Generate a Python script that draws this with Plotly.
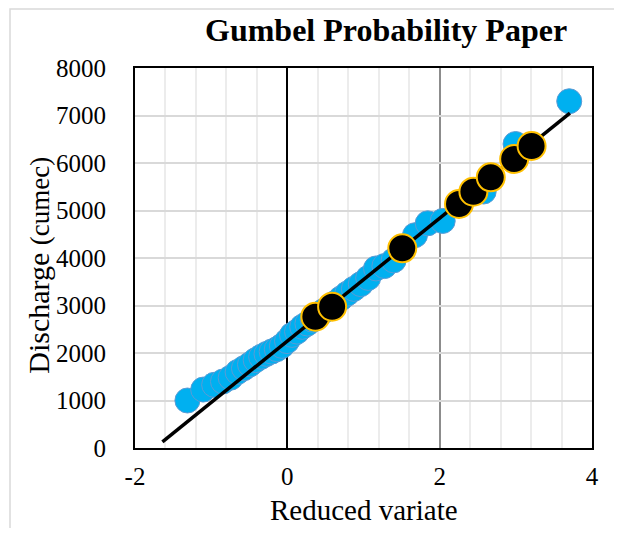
import plotly.graph_objects as go

# Observed data: reduced variate vs discharge (cumec)
obs_x = [-1.312, -1.105, -0.961, -0.845, -0.744, -0.653, -0.570, -0.491, -0.416, -0.344,
         -0.274, -0.206, -0.139, -0.072, -0.005, 0.061, 0.127, 0.195, 0.263, 0.332,
         0.402, 0.474, 0.548, 0.625, 0.704, 0.786, 0.873, 0.964, 1.061, 1.164,
         1.274, 1.395, 1.527, 1.676, 1.843, 2.040, 2.276, 2.578, 2.996, 3.701]
obs_y = [1000, 1230, 1330, 1400, 1480, 1600, 1680, 1760, 1850, 1920,
         1980, 2030, 2080, 2150, 2250, 2380, 2450, 2550, 2620, 2700,
         2800, 2880, 2950, 3050, 3150, 3250, 3350, 3450, 3580, 3780,
         3830, 3950, 4200, 4480, 4730, 4780, 5150, 5400, 6400, 7300]

# Highlighted points
hi_x = [0.368, 0.588, 1.509, 2.254, 2.443, 2.671, 2.978, 3.207]
hi_y = [2764, 2975, 4204, 5137, 5396, 5698, 6084, 6358]

# Fitted line end points
fit_x = [-1.64, 3.71]
fit_y = [130, 7050]

x_ticks = [-2, 0, 2, 4]
y_ticks = [0, 1000, 2000, 3000, 4000, 5000, 6000, 7000, 8000]

FONT = "Liberation Serif"

fig = go.Figure()
fig.add_trace(go.Scatter(
    x=obs_x, y=obs_y, mode="markers",
    marker=dict(size=25, color="#00B0F0", line=dict(color="#5B9BD5", width=1)),
    showlegend=False, cliponaxis=False))
fig.add_trace(go.Scatter(
    x=fit_x, y=fit_y, mode="lines",
    line=dict(color="black", width=3.5), showlegend=False))
fig.add_trace(go.Scatter(
    x=hi_x, y=hi_y, mode="markers",
    marker=dict(size=28, color="black", line=dict(color="#FFC000", width=2)),
    showlegend=False, cliponaxis=False))

fig.update_layout(
    width=606, height=520,
    margin=dict(l=127, r=22, t=60, b=80),
    paper_bgcolor="white", plot_bgcolor="white",
    font=dict(family=FONT, color="black", size=25),
    showlegend=False,
    xaxis=dict(range=[-2, 4], tickvals=x_ticks, ticktext=[str(v) for v in x_ticks],
               showgrid=True, gridcolor="#8c8c8c", gridwidth=1.5,
               zeroline=True, zerolinecolor="black", zerolinewidth=1.5,
               minor=dict(dtick=0.4, tick0=-2, showgrid=True, gridcolor="#ececec", gridwidth=1.5),
               showline=True, linecolor="black", linewidth=2, mirror=True,
               ticks="", ticklabelstandoff=5,
               tickfont=dict(family=FONT, size=25, color="black")),
    yaxis=dict(range=[0, 8000], tickvals=y_ticks, ticktext=[str(v) for v in y_ticks],
               showgrid=True, gridcolor="#d9d9d9", gridwidth=1.5,
               zeroline=False,
               showline=True, linecolor="black", linewidth=2, mirror=True,
               ticks="", ticklabelstandoff=22,
               tickfont=dict(family=FONT, size=25, color="black")),
    annotations=[
        dict(text="<b>Gumbel Probability Paper</b>", xref="paper", yref="paper",
             x=0.549, y=1.10, xanchor="center", yanchor="middle", showarrow=False,
             font=dict(family=FONT, size=32, color="black")),
        dict(text="Reduced variate", xref="paper", yref="paper",
             x=0.5, y=-0.163, xanchor="center", yanchor="middle", showarrow=False,
             font=dict(family=FONT, size=29, color="black")),
        dict(text="Discharge <span style='font-size:27px'>(cumec)</span>", xref="paper", yref="paper",
             x=-0.212, y=0.48, xanchor="center", yanchor="middle", showarrow=False,
             textangle=-90, font=dict(family=FONT, size=30, color="black")),
    ],
    shapes=[
        dict(type="rect", xref="paper", yref="paper",
             x0=-0.2735, x1=1.3, y0=-0.6, y1=1.155,
             line=dict(color="#d9d9d9", width=1.5), fillcolor="rgba(0,0,0,0)", layer="below"),
    ],
)

fig.write_html("out.html")
